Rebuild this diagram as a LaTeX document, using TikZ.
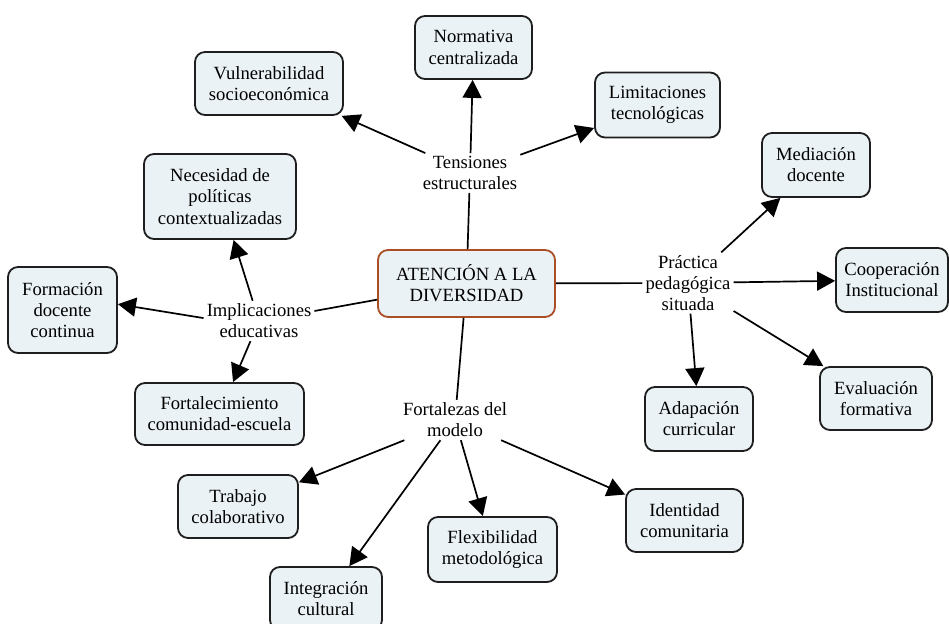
\documentclass[tikz,border=0pt]{standalone}
\usepackage{fontspec}
\setmainfont{Liberation Serif}
\usetikzlibrary{arrows.meta}
\definecolor{boxfill}{RGB}{234,242,245}
\definecolor{boxline}{RGB}{30,30,30}
\definecolor{mainline}{RGB}{170,78,38}
\tikzset{
  concept/.style={draw=boxline, line width=1.8bp, fill=boxfill, rounded corners=10bp,
    inner sep=0pt, align=center, font=\fontsize{18.7}{21.3}\selectfont},
  maincon/.style={concept, draw=mainline},
  linkword/.style={inner sep=3bp, align=center, font=\fontsize{18.7}{21}\selectfont},
  conn/.style={line width=1.7bp, draw=black},
  arr/.style={conn, -{Triangle[length=18bp,width=19bp]}}
}
\begin{document}
\begin{tikzpicture}[x=1bp,y=-1bp]
\useasboundingbox (0,0) rectangle (949,624);
% concepts
\node[maincon, minimum width=177bp, minimum height=67bp] (main) at (466.5,283.5) {ATENCIÓN A LA\\DIVERSIDAD};
\node[concept, minimum width=117bp, minimum height=63bp] (norm) at (473.5,47.5) {Normativa\\centralizada};
\node[concept, minimum width=148bp, minimum height=63bp] (vuln) at (269,83.5) {Vulnerabilidad\\socioeconómica};
\node[concept, minimum width=125bp, minimum height=65bp] (limi) at (657.5,105) {Limitaciones\\tecnológicas};
\node[concept, minimum width=152bp, minimum height=85bp] (nece) at (220,196.5) {Necesidad de\\políticas\\contextualizadas};
\node[concept, minimum width=108bp, minimum height=64bp] (medi) at (816,165) {Mediación\\docente};
\node[concept, minimum width=109bp, minimum height=86bp] (form) at (62.5,310) {Formación\\docente\\continua};
\node[concept, minimum width=112bp, minimum height=64bp] (coop) at (892,280) {Cooperación\\Institucional};
\node[concept, minimum width=169bp, minimum height=62bp] (fort) at (219.5,414) {Fortalecimiento\\comunidad-escuela};
\node[concept, minimum width=108bp, minimum height=64bp] (adap) at (699,419) {Adapación\\curricular};
\node[concept, minimum width=112bp, minimum height=63bp] (eval) at (876,398.5) {Evaluación\\formativa};
\node[concept, minimum width=120bp, minimum height=63bp] (trab) at (238,506.5) {Trabajo\\colaborativo};
\node[concept, minimum width=129bp, minimum height=65bp] (flex) at (492.5,549.5) {Flexibilidad\\metodológica};
\node[concept, minimum width=117bp, minimum height=63bp] (iden) at (684.5,520.5) {Identidad\\comunitaria};
\node[concept, minimum width=112bp, minimum height=63bp] (inte) at (326,598.5) {Integración\\cultural};
% linking words
\node[linkword] (tens) at (470,173) {Tensiones\\estructurales};
\node[linkword] (prac) at (688,283) {Práctica\\pedagógica\\situada};
\node[linkword] (impl) at (259,321) {Implicaciones\\educativas};
\node[linkword] (fuer) at (455,420) {Fortalezas del\\modelo};
% connectors
\draw[conn] (main) -- (tens);
\draw[conn] (main) -- (prac);
\draw[conn] (main) -- (impl);
\draw[conn] (main) -- (fuer);
\draw[arr] (tens) -- (norm);
\draw[arr] (tens) -- (vuln);
\draw[arr] (tens) -- (limi);
\draw[arr] (prac) -- (medi);
\draw[arr] (prac) -- (coop);
\draw[arr] (prac) -- (eval);
\draw[arr] (prac) -- (adap);
\draw[arr] (impl) -- (nece);
\draw[arr] (impl.177) -- (form.6);
\draw[arr] (impl) -- (fort);
\draw[arr] (fuer) -- (trab);
\draw[arr] (fuer) -- (inte);
\draw[arr] (fuer) -- (flex);
\draw[arr] (fuer) -- (iden);
\end{tikzpicture}
\end{document}
